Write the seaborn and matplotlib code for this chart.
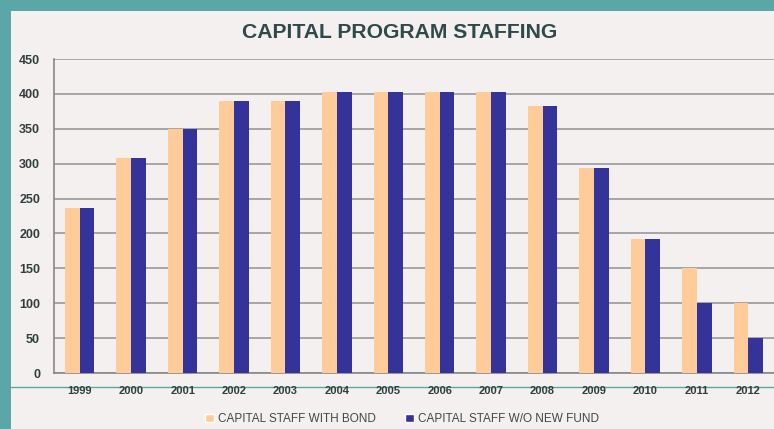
import pandas as pd
import seaborn as sns
import matplotlib.pyplot as plt
from matplotlib.patches import Rectangle
from matplotlib.lines import Line2D

# chart data
years = ['1999', '2000', '2001', '2002', '2003', '2004', '2005', '2006',
         '2007', '2008', '2009', '2010', '2011', '2012']
with_bond = [237, 308, 349, 390, 390, 403, 403, 403, 403, 382, 294, 192, 150, 100]
without_fund = [237, 308, 349, 390, 390, 403, 403, 403, 403, 382, 294, 192, 100, 50]
series_names = ['CAPITAL STAFF WITH BOND', 'CAPITAL STAFF W/O NEW FUND']
y_ticks = [0, 50, 100, 150, 200, 250, 300, 350, 400, 450]

df = pd.DataFrame({
    'year': years * 2,
    'staff': with_bond + without_fund,
    'series': [series_names[0]] * len(years) + [series_names[1]] * len(years),
})

sns.set_style('white')
plt.rcParams['font.family'] = ['Liberation Sans', 'DejaVu Sans']

W, H = 774, 429
fig = plt.figure(figsize=(W / 100, H / 100), dpi=100)
fig.patch.set_facecolor('#5ba6a6')
# light panel inside the teal frame
fig.patches.append(Rectangle((11 / W, 0), 1, 1 - 11 / H, transform=fig.transFigure,
                             facecolor='#f4f0f0', edgecolor='none', zorder=-10))
fig.lines.append(Line2D([11 / W, 1], [1 - 387 / H, 1 - 387 / H], transform=fig.transFigure,
                        color='#5ba6a6', lw=1, zorder=-5))

ax = fig.add_axes([54 / W, 1 - 373 / H, 1 - 54 / W, (373 - 59) / H])
ax.set_facecolor('#f4f0f0')

orange = '#ffcc99'
blue = '#333399'
sns.barplot(data=df, x='year', y='staff', hue='series', palette=[orange, blue],
            width=0.57, gap=0, ax=ax, legend=False, saturation=1, linewidth=0)
for bar in ax.patches:
    bar.set_zorder(3)

ax.set_ylim(0, 450)
ax.set_xlim(-0.5, len(years) - 0.5)
ax.set_yticks(y_ticks)
ax.yaxis.grid(True, color='#a0a0a0', lw=1.3, zorder=0)
ax.set_axisbelow(True)
ax.set_xlabel('')
ax.set_ylabel('')

for s in ['top', 'right']:
    ax.spines[s].set_visible(False)
for s in ['left', 'bottom']:
    ax.spines[s].set_color('#888888')
    ax.spines[s].set_linewidth(1.2)

ax.tick_params(axis='y', length=4, width=1, color='#888888', labelsize=9,
               labelcolor='#333d3d', pad=6)
ax.set_xticks(range(len(years)))
ax.set_xticklabels(years)
ax.tick_params(axis='x', length=0, labelsize=8, labelcolor='#333d3d', pad=9)
for lab in ax.get_xticklabels() + ax.get_yticklabels():
    lab.set_fontweight('bold')
# minor ticks between categories
ax.set_xticks([i + 0.5 for i in range(len(years) - 1)], minor=True)
ax.tick_params(axis='x', which='minor', length=4, width=1, color='#888888')

fig.text(400 / W, 1 - 33 / H, 'CAPITAL PROGRAM STAFFING', ha='center', va='center',
         fontsize=15.2, fontweight='bold', color='#2f4a4a')

handles = [Rectangle((0, 0), 1, 1, facecolor=orange), Rectangle((0, 0), 1, 1, facecolor=blue)]
fig.legend(handles, series_names, loc='center', bbox_to_anchor=(402 / W, 1 - 419 / H),
           ncol=2, frameon=False, fontsize=8.5, handlelength=0.75, handleheight=0.75,
           handletextpad=0.3, columnspacing=2.5, labelcolor='#3b4a4a')

fig.savefig('out.png', dpi=100, facecolor=fig.get_facecolor())
